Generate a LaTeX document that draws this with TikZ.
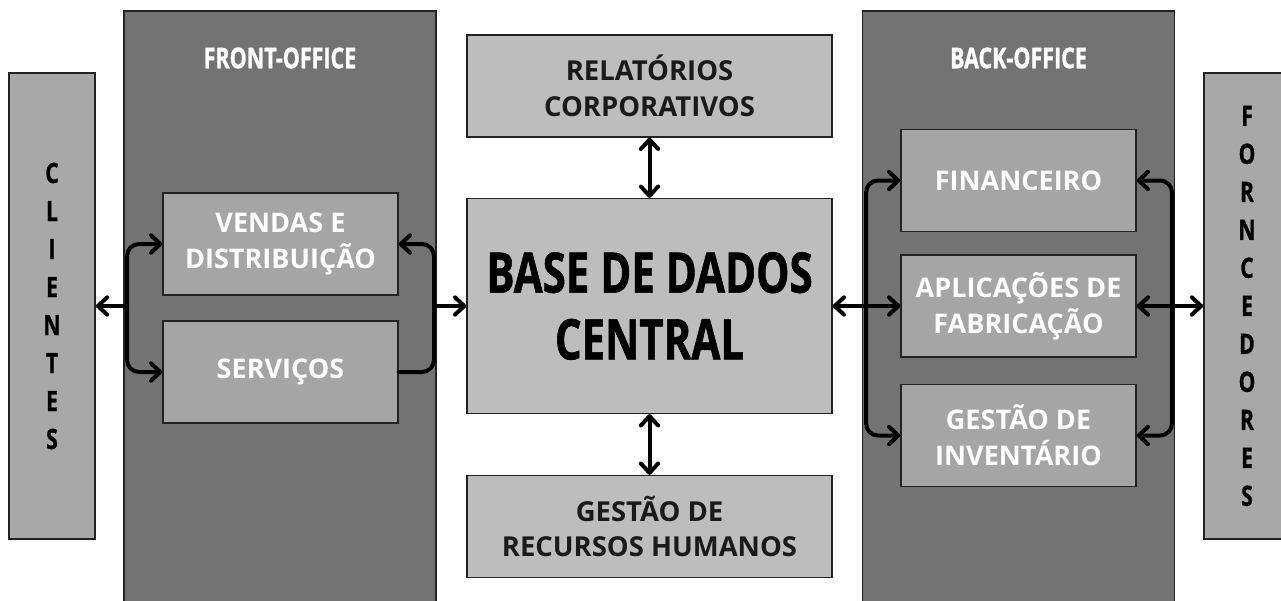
\documentclass[tikz,border=0pt]{standalone}
\usepackage{fontspec}
\setmainfont{Open Sans}
\newfontfamily\condfont{Open Sans}[FakeStretch=0.75,FakeBold=1]
\usetikzlibrary{arrows.meta}
\definecolor{panelgray}{HTML}{737373}
\definecolor{sidegray}{HTML}{A8A8A8}
\definecolor{midgray}{HTML}{BCBDBC}
\definecolor{boxgray}{HTML}{A5A5A5}
\definecolor{edgegray}{HTML}{222222}
\definecolor{textdark}{HTML}{1A1A1A}
\begin{document}
\begin{tikzpicture}[x=0.75pt,y=0.75pt,yscale=-1,xscale=1,
  panel/.style={draw=edgegray,line width=1pt,fill=panelgray,minimum width=234pt,minimum height=450pt,inner sep=0pt},
  sidebox/.style={draw=edgegray,line width=1.2pt,fill=sidegray,minimum width=64.5pt,minimum height=349.5pt,inner sep=0pt,align=center,text=black,font=\condfont\bfseries\fontsize{21}{28.5}\selectfont},
  midbox/.style={draw=edgegray,line width=1pt,fill=midgray,minimum width=273.75pt,minimum height=76.5pt,inner sep=0pt,align=center,text=textdark,font=\bfseries\fontsize{20.6}{26.5}\selectfont},
  subbox/.style={draw=edgegray,line width=1pt,fill=boxgray,minimum width=176.25pt,minimum height=76.5pt,inner sep=0pt,align=center,text=white,font=\bfseries\fontsize{20.3}{27}\selectfont},
  paneltitle/.style={text=white,inner sep=0pt,font=\condfont\bfseries\fontsize{21.5}{24}\selectfont},
  link/.style={line width=3pt,rounded corners=9pt,line cap=round},
  >={Straight Barb[length=7pt,width=13pt,round]}
]
\useasboundingbox (0,0) rectangle (1281,600);

% Panels
\node [panel] (front) at (280,311) {};
\node [panel] (back) at (1018.5,311) {};
\node [paneltitle] (fronttitle) at (280,58) {FRONT-OFFICE};
\node [paneltitle] (backtitle) at (1018.5,58) {BACK-OFFICE};

% Side boxes
\node [sidebox] (cli) at (52,306) {C\\L\\I\\E\\N\\T\\E\\S};
\node [sidebox] (forn) at (1247,306) {F\\O\\R\\N\\C\\E\\D\\O\\R\\E\\S};

% Middle column
\node [midbox] (rel) at (649.5,86) {RELATÓRIOS\\CORPORATIVOS};
\node [midbox,minimum height=161.25pt,font=\condfont\bfseries\fontsize{42}{50}\selectfont,text=black] (base) at (649.5,306) {BASE DE DADOS\\CENTRAL};
\node [midbox] (rh) at (649.5,526.5) {GESTÃO DE\\RECURSOS HUMANOS};

% Front-office boxes
\node [subbox] (vendas) at (280.5,244) {VENDAS E\\DISTRIBUIÇÃO};
\node [subbox] (serv) at (280.5,372) {SERVIÇOS};

% Back-office boxes
\node [subbox] (fin) at (1018.5,180.5) {FINANCEIRO};
\node [subbox] (apl) at (1018.5,306) {APLICAÇÕES DE\\FABRICAÇÃO};
\node [subbox] (inv) at (1018.5,435.5) {GESTÃO DE\\INVENTÁRIO};

% Connectors, left
\coordinate (jcli) at (127,306);
\draw [link,->] (jcli) -- (cli.east);
\draw [link,->] (jcli) |- (vendas.west);
\draw [link,->] (jcli) |- (serv.west);
\coordinate (jfront) at (434,306);
\draw [link,->] (jfront) |- (vendas.east);
\draw [link] (jfront) |- (serv.east);
\draw [link,->] (jfront) -- (base.west);

% Connectors, middle
\draw [link,<->] (rel) -- (base);
\draw [link,<->] (base) -- (rh);

% Connectors, right
\coordinate (jback) at (866,306);
\draw [link,->] (jback) -- (base.east);
\draw [link,->] (jback) |- (fin.west);
\draw [link,->] (jback) -- (apl.west);
\draw [link,->] (jback) |- (inv.west);
\coordinate (jforn) at (1172,306);
\draw [link,->] (jforn) |- (fin.east);
\draw [link,->] (jforn) -- (apl.east);
\draw [link,->] (jforn) |- (inv.east);
\draw [link,->] (jforn) -- (forn.west);

\end{tikzpicture}
\end{document}
